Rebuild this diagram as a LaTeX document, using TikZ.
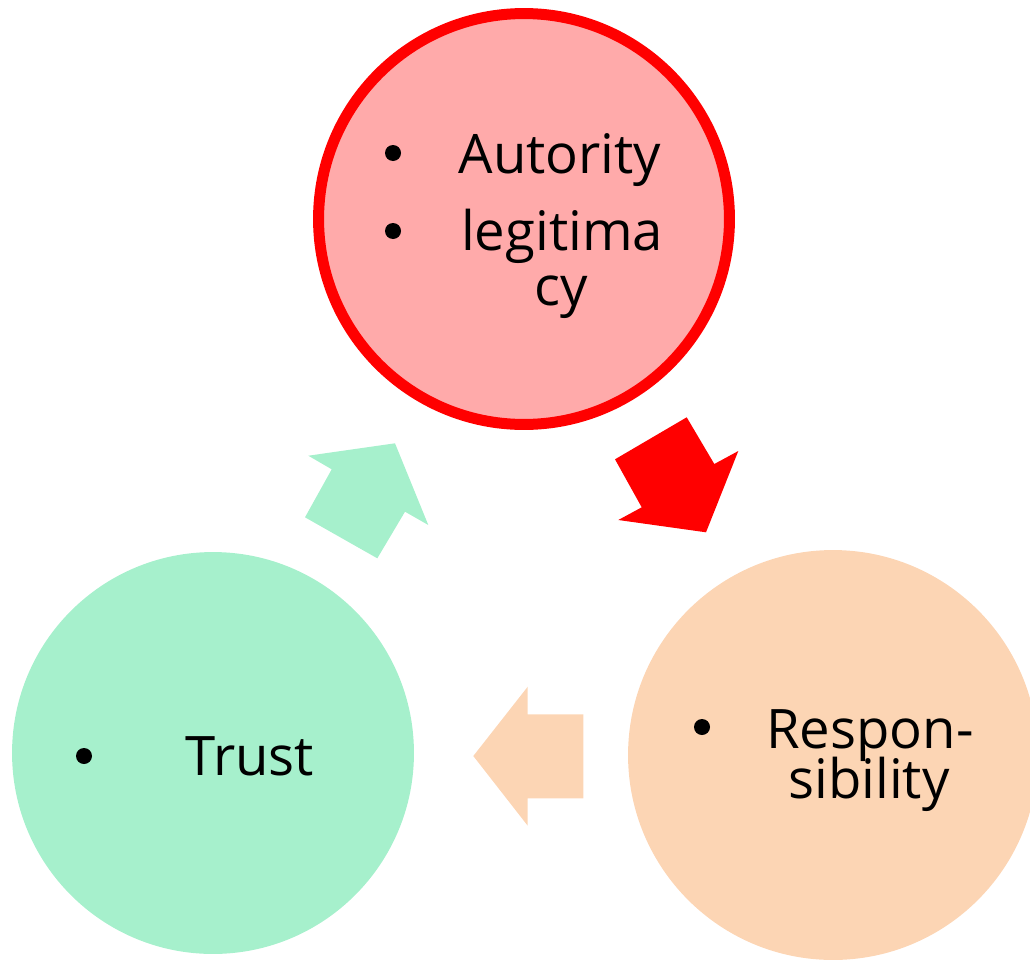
\documentclass[tikz,border=0pt]{standalone}
\usepackage{fontspec}
\setmainfont{Open Sans}
\definecolor{autorityfill}{HTML}{FFAAAA}
\definecolor{trustfill}{HTML}{A6F0CC}
\definecolor{respfill}{HTML}{FCD5B4}
\newcommand{\bigtext}{\fontsize{31}{40}\selectfont}

\begin{document}
\begin{tikzpicture}[x=0.02cm, y=-0.02cm,
  txt/.style={anchor=base, inner sep=0pt, font=\bigtext},
  dot/.style={circle, fill=black, inner sep=0pt, minimum size=0.32cm}]
 \useasboundingbox (0,0) rectangle (1030,960);

 \node[circle, draw=red, line width=0.22cm, fill=autorityfill, minimum size=8.22cm] (autority) at (524,219) {};
 \node[circle, fill=trustfill, minimum size=8.04cm] (trust)  at (213,753) {};
 \node[circle, fill=respfill, minimum size=8.2cm]   (resp)   at (833,755) {};

 \node[dot] (dotA)   at (393,153) {};
 \node[dot] (dotL)   at (393,231) {};
 \node[dot] (dotT)   at (84,756)  {};
 \node[dot] (dotR)   at (702,727) {};

 \node[txt] (autorityA) at (560,173) {Autority};
 \node[txt] (legitA)    at (562,250) {legitima};
 \node[txt] (legitB)    at (561,305) {cy};
 \node[txt] (trustA)    at (250,775) {Trust};
 \node[txt] (respA)     at (870,748) {Respon-};
 \node[txt] (respB)     at (869,798) {sibility};

 \fill[red] (686.7,417.3) -- (615,459.3) -- (641.7,507.3) -- (618.3,520) -- (706,532.3) -- (738.3,451) -- (714.3,464) -- cycle;
 \fill[trustfill] (308.3,455.7) -- (331.7,469.3) -- (305,517.3) -- (377.3,558.3) -- (405,511.7) -- (428.3,525) -- (395,443.3) -- cycle;
 \fill[respfill] (473.3,756) -- (527.7,686.7) -- (527.7,714.3) -- (583.3,714.3) -- (583.3,798.3) -- (527.7,798.3) -- (527.7,825.7) -- cycle;
\end{tikzpicture}
\end{document}
